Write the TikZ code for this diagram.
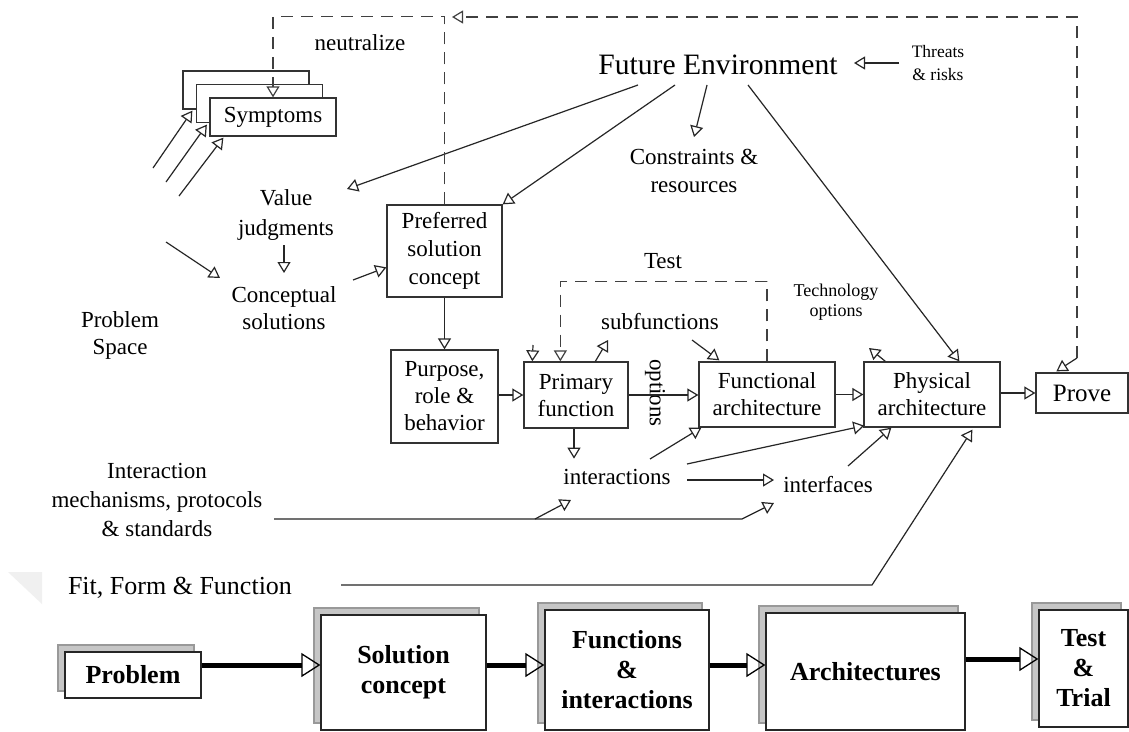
\documentclass[tikz,border=0pt]{standalone}
\usepackage{fontspec}
\setmainfont{Liberation Serif}
\usetikzlibrary{arrows.meta,calc,shadows}
\newcommand\myfs[2]{\fontsize{#1pt}{#2pt}\selectfont}
\begin{document}
\begin{tikzpicture}[x=1pt,y=-1pt,
  otip/.style={-{Triangle[open,length=11pt,width=13pt,line width=1.2pt]}},
  arr/.style={draw=black!85, line width=1.2pt, otip},
  dsh/.style={draw=black!75, line width=1.2pt, dash pattern=on 12pt off 8pt},
  lbl/.style={align=center, inner sep=1pt, font=\myfs{23}{28}},
  box/.style={draw=black!80, line width=1.3pt, fill=white, align=center, inner sep=0pt, font=\myfs{23}{27}},
  bigbox/.style={draw=black!85, line width=1.3pt, fill=white, align=center, inner sep=0pt,
    font=\bfseries\myfs{26}{30},
    copy shadow={shadow xshift=-7pt, shadow yshift=7pt, fill=gray!45, draw=gray!80}},
  bigarr/.style={draw=black, line width=5pt, -{Triangle[open,length=19pt,width=24pt,line width=1.3pt]}},
]
\useasboundingbox (0,0) rectangle (1129,731);
\fill[white] (0,0) rectangle (1129,731);
\fill[gray!12] (8,572) -- (42,572) -- (42,604) -- cycle;

% ---------- labels ----------
\node[lbl, font=\myfs{29.6}{32}] (fe) at (718,65) {Future Environment};
\node[lbl, font=\myfs{17.5}{23}] (thr) at (938,63.5) {Threats\\\& risks};
\node[lbl] (cons) at (694,171) {Constraints \&\\resources};
\node[lbl] (neut) at (360,43) {neutralize};
\node[lbl, font=\myfs{23}{30}] (valj) at (286,215) {Value\\judgments};
\node[lbl, font=\myfs{23}{27}] (concs) at (284,308.5) {Conceptual\\solutions};
\node[lbl, font=\myfs{23}{27}] (pspace) at (120,335.5) {Problem\\Space};
\node[lbl] (test) at (663,261) {Test};
\node[lbl] (subf) at (660,322) {subfunctions};
\node[lbl, font=\myfs{18}{20}] (tech) at (836,302) {Technology\\options};
\node[lbl, rotate=-90] (opts) at (655,393) {options};
\node[lbl] (inter) at (617,477) {interactions};
\node[lbl] (ifaces) at (828,485) {interfaces};
\node[lbl, font=\myfs{23}{29}] (imech) at (157,500) {Interaction\\mechanisms, protocols\\\& standards};
\node[lbl, font=\myfs{26}{30}] (fff) at (180,588) {Fit, Form \& Function};

% ---------- symptom stack (cards behind the front one) ----------
\node[box, minimum width=126pt, minimum height=38pt] (symc) at (246,90) {};
\node[box, minimum width=126pt, minimum height=38pt] (symb) at (259.5,103.5) {};
\node[box, minimum width=126pt, minimum height=38pt] (syma) at (273,117) {Symptoms};

% ---------- process boxes ----------
\node[box, minimum width=115pt, minimum height=92pt, font=\myfs{23}{28}] (pref) at (444.5,251) {Preferred\\solution\\concept};
\node[box, minimum width=107pt, minimum height=93pt] (purp) at (444.5,396.5) {Purpose,\\role \&\\behavior};
\node[box, minimum width=104pt, minimum height=66pt] (prim) at (576,395) {Primary\\function};
\node[box, minimum width=136pt, minimum height=65pt] (func) at (767,394.5) {Functional\\architecture};
\node[box, minimum width=136pt, minimum height=65pt] (phys) at (932,394.5) {Physical\\architecture};
\node[box, minimum width=92pt, minimum height=40pt, font=\myfs{25}{28}] (prove) at (1082,393) {Prove};

% ---------- bottom row ----------
\node[bigbox, minimum width=136pt, minimum height=46pt] (prob) at (133,675) {Problem};
\node[bigbox, minimum width=165pt, minimum height=115pt] (sol) at (403.5,672.5) {Solution\\concept};
\node[bigbox, minimum width=164pt, minimum height=120pt] (funcs) at (627,670) {Functions\\\&\\interactions};
\node[bigbox, minimum width=199pt, minimum height=117pt] (arch) at (865.5,671.5) {Architectures};
\node[bigbox, minimum width=89pt, minimum height=117pt] (trial) at (1083.5,668.5) {Test\\\&\\Trial};

\coordinate (b1) at ($(prob.east)+(0,-10)$);
\coordinate (b2) at ($(sol.east)+(0,-7.5)$);
\coordinate (b3) at ($(funcs.east)+(0,-5)$);
\coordinate (b4) at ($(arch.east)+(0,-12.5)$);
\draw[bigarr] (b1) -- (b1 -| sol.west);
\draw[bigarr] (b2) -- (b2 -| funcs.west);
\draw[bigarr] (b3) -- (b3 -| arch.west);
\draw[bigarr] (b4) -- (b4 -| trial.west);

% ---------- free ends ----------
\coordinate (fe1) at (638,85);
\coordinate (fe2) at (675,85);
\coordinate (fe3) at (707,85);
\coordinate (fe4) at (748,85);
\coordinate (valtip) at (347,189);
\coordinate (constip) at (694,137);
\coordinate (thrs) at (899,63);
\coordinate (thrt) at (854,63);
\coordinate (vj1) at (284,245);
\coordinate (vj2) at (284,273);
\coordinate (ps1) at (166,242);
\coordinate (ps2) at (220,278);
\coordinate (cs1) at (353,280);
\coordinate (s1) at (153,168);
\coordinate (s2) at (166,182);
\coordinate (s3) at (179,196);
\coordinate (in1) at (650,459);
\coordinate (in2) at (687,464);
\coordinate (in3) at (687,480);
\coordinate (in4) at (774,480);
\coordinate (if1) at (848,466);
\coordinate (im1) at (274,519);
\coordinate (im2) at (742,519);
\coordinate (im3) at (774,503);
\coordinate (im4) at (535,519);
\coordinate (im5) at (571,500);
\coordinate (ff1) at (341,585);
\coordinate (ff2) at (872,585);
\coordinate (sf1) at (692,340);
\coordinate (pt1) at (533,345);
\coordinate (pt2) at (608,340);
\coordinate (ph1) at (869,348);
\coordinate (pv) at (1077,358);
\coordinate (topv) at (452,17);

% ---------- connectors ----------
\draw[arr] (thrs) -- (thrt);
\draw[arr] (fe1) -- (valtip);
\draw[arr] (fe2) -- (pref.north east);
\draw[arr] (fe3) -- (constip);
\draw[arr] (fe4) -- ($(phys.north west)+(96,0)$);
\draw[arr] (vj1) -- (vj2);
\draw[arr] (ps1) -- (ps2);
\draw[arr] (cs1) -- ($(pref.north west)+(0,63)$);
\draw[arr] (s1) -- ($(symc.south west)+(10,1)$);
\draw[arr] (s2) -- ($(symb.south west)+(11,1.5)$);
\draw[arr] (s3) -- ($(syma.south west)+(14,1)$);
\draw[arr] (pref.south) -- (purp.north);
\draw[arr] (purp.east |- prim.west) -- (prim.west);
\draw[arr] (prim.east) -- (prim.east -| func.west);
\draw[arr] (func.east) -- (phys.west);
\draw[arr] (phys.east |- prove.west) -- (prove.west);
\draw[arr] ($(prim.south)+(-2,0)$) -- ($(prim.south)+(-2,30)$);
\draw[arr] (in1) -- ($(func.south west)+(3,0)$);
\draw[arr] (in2) -- ($(phys.south west)+(1,-2)$);
\draw[arr] (in3) -- (in4);
\draw[arr] (if1) -- ($(phys.south west)+(28,0)$);
\draw[arr] (im1) -- (im2) -- (im3);
\draw[arr] (im4) -- (im5);
\draw[arr] (ff1) -- (ff2) -- ($(phys.south west)+(109,2)$);
\draw[arr] (sf1) -- ($(func.north west)+(21,-1)$);
\draw[arr] (pt1) -- ($(prim.north west)+(9,0)$);
\draw[arr] ($(prim.north west)+(72,0)$) -- (pt2);
\draw[arr] ($(phys.north west)+(22,0)$) -- (ph1);
\draw[arr] (pv) -- ($(prove.north west)+(21,-1)$);

% ---------- dashed feedback paths ----------
\draw[dsh, otip] (func.north) -- ++(0,-80) -| ($(prim.north west)+(37,0)$);
\draw[dsh, otip] (pv) -- (1077,17) -- (topv);
\draw[dsh, otip] (pref.north) -- ++(0,-188) -| (syma.north);
\end{tikzpicture}
\end{document}
